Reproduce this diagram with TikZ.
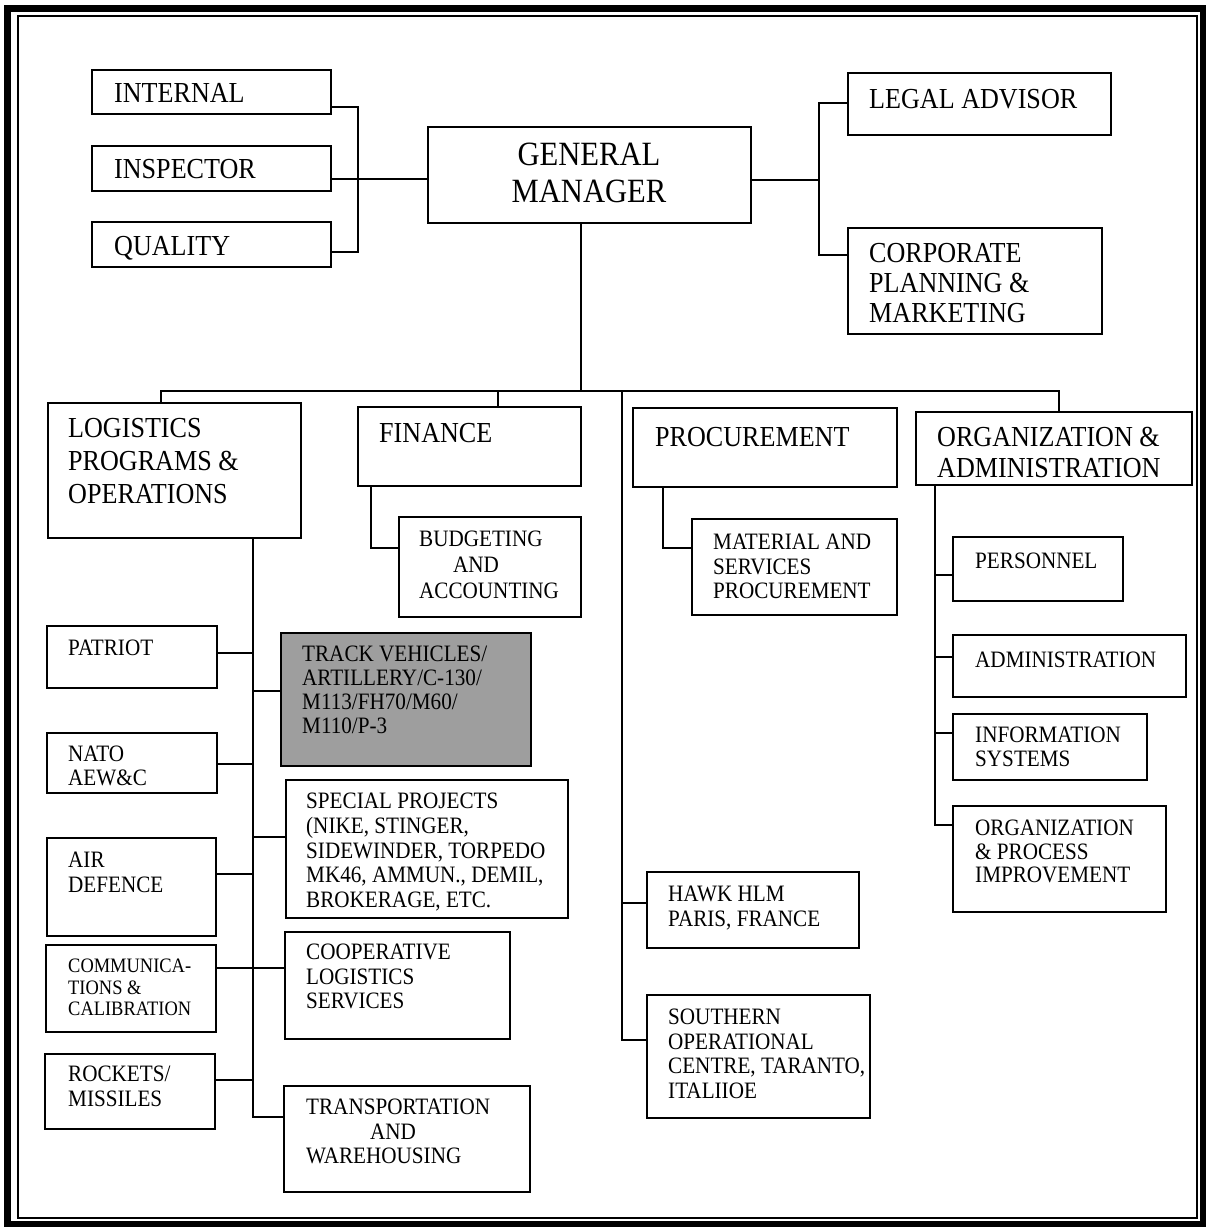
\documentclass[tikz,border=0pt]{standalone}
\usepackage{fontspec}
\setmainfont[FakeStretch=0.9]{Liberation Serif}
\tikzset{
  box/.style={draw, line width=1.8pt, inner sep=0pt, outer sep=0pt, anchor=north west},
  con/.style={line width=1.6pt},
  tS/.style={anchor=north west, inner sep=0pt, align=left, font=\fontsize{23.5}{#1}\selectfont},
  tS/.default=24.5,
  tM/.style={anchor=north west, inner sep=0pt, align=left, font=\fontsize{29}{#1}\selectfont},
  tM/.default=32,
  tC/.style={anchor=north west, inner sep=0pt, align=left, font=\fontsize{20.5}{21.5}\selectfont},
  tG/.style={anchor=north, inner sep=0pt, align=center, font=\fontsize{34}{37}\selectfont},
}
\newcommand\bx[6][]{\node[box,#1,minimum width={#5pt-#3pt},minimum height={#6pt-#4pt}] (#2) at (#3,#4) {};}
\begin{document}
\begin{tikzpicture}[x=1pt,y=-1pt]
\useasboundingbox (0,0) rectangle (1207,1228);
% frame
\draw[line width=6.5pt] (7.5,8.5) rectangle (1203,1224);
\draw[line width=1.5pt] (18,16) rectangle (1197,1218);

% boxes
\bx{internal}{92}{70}{331}{114}
\bx{inspector}{92}{146}{331}{191}
\bx{quality}{92}{222}{331}{267}
\bx{gm}{428}{127}{751}{223}
\bx{legal}{848}{73}{1111}{135}
\bx{corp}{848}{228}{1102}{334}
\bx{logis}{48}{403}{301}{538}
\bx{finance}{358}{407}{581}{486}
\bx{budget}{399}{517}{581}{617}
\bx{procure}{633}{408}{897}{487}
\bx{material}{692}{519}{897}{615}
\bx{orgadm}{916}{412}{1192}{485}
\bx{personnel}{953}{537}{1123}{601}
\bx{admin}{953}{635}{1186}{697}
\bx{infosys}{953}{714}{1147}{780}
\bx{orgproc}{953}{806}{1166}{912}
\bx{hawk}{647}{872}{859}{948}
\bx{southern}{647}{995}{870}{1118}
\bx{patriot}{47}{626}{217}{688}
\bx[fill=black!38]{track}{281}{633}{531}{766}
\bx{nato}{47}{733}{217}{793}
\bx{special}{286}{780}{568}{918}
\bx{airdef}{47}{838}{216}{936}
\bx{comm}{46}{945}{216}{1032}
\bx{coop}{285}{932}{510}{1039}
\bx{rockets}{45}{1054}{215}{1129}
\bx{transp}{284}{1086}{530}{1192}

% texts
\node[tM] (internal-t) at (114,83) {INTERNAL};
\node[tM] (inspector-t) at (114,159) {INSPECTOR};
\node[tM] (quality-t) at (114,236) {QUALITY};
\node[tG] (gm-t) at (589,143) {GENERAL\\MANAGER};
\node[tM] (legal-t) at (869,89) {LEGAL ADVISOR};
\node[tM=30] (corp-t) at (869,243) {CORPORATE\\PLANNING \&\\MARKETING};
\node[tM=33] (logis-t) at (68,418) {LOGISTICS\\PROGRAMS \&\\OPERATIONS};
\node[tM] (finance-t) at (379,423) {FINANCE};
\node[tM] (procure-t) at (655,427) {PROCUREMENT};
\node[tM=31] (orgadm-t) at (937,427) {ORGANIZATION \&\\ADMINISTRATION};
\node[tS=26] (budget-t) at (419,531) {BUDGETING\\\hspace*{34pt}AND\\ACCOUNTING};
\node[tS=24.5] (material-t) at (713,534) {MATERIAL AND\\SERVICES\\PROCUREMENT};
\node[tS] (personnel-t) at (975,553) {PERSONNEL};
\node[tS] (admin-t) at (975,652) {ADMINISTRATION};
\node[tS=23.5] (infosys-t) at (975,727) {INFORMATION\\SYSTEMS};
\node[tS=23.5] (orgproc-t) at (975,820) {ORGANIZATION\\\& PROCESS\\IMPROVEMENT};
\node[tS=25] (hawk-t) at (668,886) {HAWK HLM\\PARIS, FRANCE};
\node[tS=24.5] (southern-t) at (668,1009) {SOUTHERN\\OPERATIONAL\\CENTRE, TARANTO,\\ITALIIOE};
\node[tS] (patriot-t) at (68,640) {PATRIOT};
\node[tS=24] (track-t) at (302,646) {TRACK VEHICLES/\\ARTILLERY/C-130/\\M113/FH70/M60/\\M110/P-3};
\node[tS=24] (nato-t) at (68,746) {NATO\\AEW\&C};
\node[tS=24.7] (special-t) at (306,793) {SPECIAL PROJECTS\\(NIKE, STINGER,\\SIDEWINDER, TORPEDO\\MK46, AMMUN., DEMIL,\\BROKERAGE, ETC.};
\node[tS=25] (airdef-t) at (68,852) {AIR\\DEFENCE};
\node[tC] (comm-t) at (68,959) {COMMUNICA-\\TIONS \&\\CALIBRATION};
\node[tS=24.5] (coop-t) at (306,944) {COOPERATIVE\\LOGISTICS\\SERVICES};
\node[tS=24.8] (rockets-t) at (68,1066) {ROCKETS/\\MISSILES};
\node[tS=24.5] (transp-t) at (306,1099) {TRANSPORTATION\\\hspace*{64pt}AND\\WAREHOUSING};

% connectors: top
\coordinate (jA) at (358,107);
\coordinate (jB) at (358,252);
\coordinate (jI) at (358,179);
\draw[con] (internal.east |- jA) -- (jA) -- (jB) -- (quality.east |- jB);
\draw[con] (inspector.east |- jI) -- (gm.west |- jI);
\coordinate (jR1) at (819,103);
\coordinate (jR2) at (819,255);
\coordinate (jRm) at (819,180);
\draw[con] (gm.east |- jRm) -- (jRm);
\draw[con] (legal.west |- jR1) -- (jR1) -- (jR2) -- (corp.west |- jR2);
% bus
\coordinate (bGM) at (581,391);
\coordinate (bL) at (161,391);
\coordinate (bR) at (1059,391);
\coordinate (bF) at (498,391);
\coordinate (bP) at (622,391);
\draw[con] (gm.south -| bGM) -- (bGM);
\draw[con] (logis.north -| bL) -- (bL) -- (bR) -- (orgadm.north -| bR);
\draw[con] (bF) -- (finance.north -| bF);
% procurement column
\coordinate (pS) at (622,1040);
\coordinate (pH) at (622,903);
\draw[con] (bP) -- (pS) -- (southern.west |- pS);
\draw[con] (pH) -- (hawk.west |- pH);
% finance / procurement subs
\coordinate (fA) at (371,548);
\draw[con] (finance.south -| fA) -- (fA) -- (budget.west |- fA);
\coordinate (pA) at (663,548);
\draw[con] (procure.south -| pA) -- (pA) -- (material.west |- pA);
% org & admin subs
\coordinate (oE) at (935,825);
\coordinate (oP) at (935,575);
\coordinate (oA) at (935,657);
\coordinate (oI) at (935,733);
\draw[con] (orgadm.south -| oE) -- (oE) -- (orgproc.west |- oE);
\draw[con] (oP) -- (personnel.west |- oP);
\draw[con] (oA) -- (admin.west |- oA);
\draw[con] (oI) -- (infosys.west |- oI);
% logistics subs
\coordinate (lE) at (253,1117);
\coordinate (lPa) at (253,653);
\coordinate (lTr) at (253,691);
\coordinate (lNa) at (253,764);
\coordinate (lSp) at (253,837);
\coordinate (lAi) at (253,874);
\coordinate (lCo) at (253,968);
\coordinate (lRo) at (253,1080);
\draw[con] (logis.south -| lE) -- (lE) -- (transp.west |- lE);
\draw[con] (patriot.east |- lPa) -- (lPa);
\draw[con] (lTr) -- (track.west |- lTr);
\draw[con] (nato.east |- lNa) -- (lNa);
\draw[con] (lSp) -- (special.west |- lSp);
\draw[con] (airdef.east |- lAi) -- (lAi);
\draw[con] (comm.east |- lCo) -- (coop.west |- lCo);
\draw[con] (rockets.east |- lRo) -- (lRo);
\end{tikzpicture}
\end{document}
